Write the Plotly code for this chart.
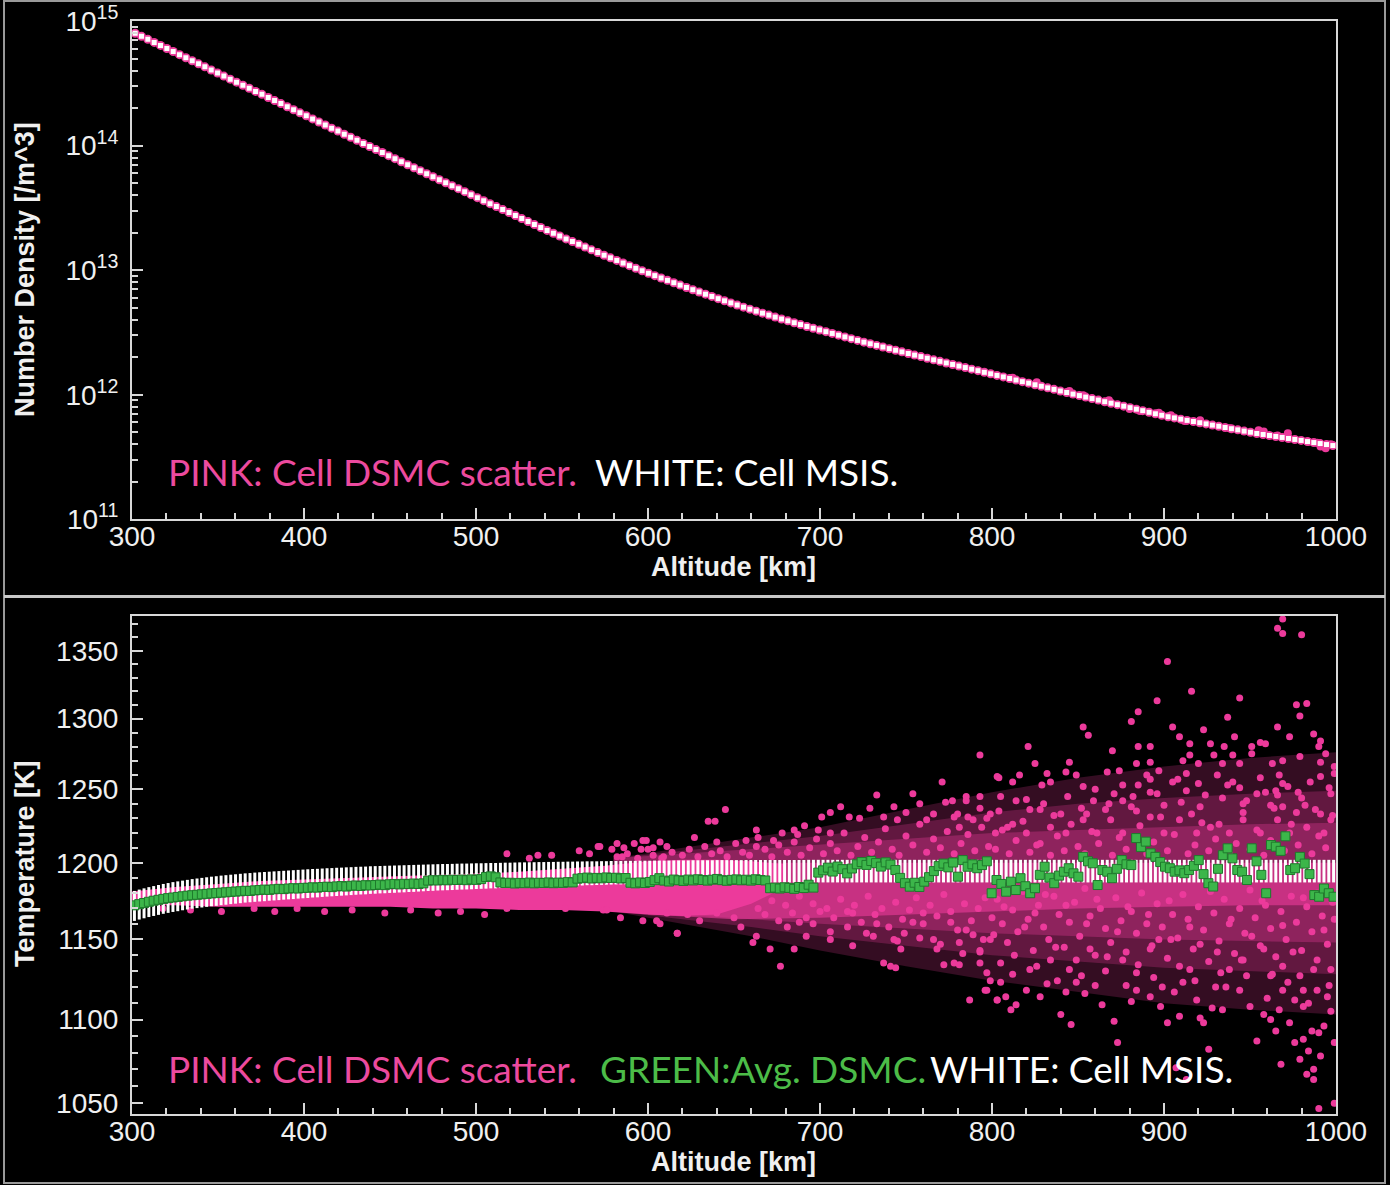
import numpy as np
import plotly.graph_objects as go

W, H = 1390, 1185

# ---------------- TOP PANEL DATA: number density ----------------
top_cell_alt = np.linspace(301.84, 998.16, 190)   # cell centres [km]
msis_log10_density = [
    14.902, 14.877, 14.853, 14.828, 14.804, 14.779, 14.755, 14.730, 14.705, 14.681,
    14.656, 14.632, 14.607, 14.583, 14.558, 14.533, 14.509, 14.484, 14.460, 14.435,
    14.411, 14.386, 14.361, 14.337, 14.312, 14.288, 14.263, 14.239, 14.214, 14.189,
    14.165, 14.140, 14.116, 14.091, 14.067, 14.042, 14.017, 13.993, 13.968, 13.944,
    13.919, 13.895, 13.870, 13.846, 13.822, 13.798, 13.774, 13.750, 13.726, 13.702,
    13.678, 13.654, 13.630, 13.606, 13.582, 13.558, 13.534, 13.510, 13.486, 13.462,
    13.438, 13.414, 13.390, 13.366, 13.342, 13.319, 13.296, 13.274, 13.251, 13.229,
    13.207, 13.185, 13.163, 13.141, 13.120, 13.099, 13.078, 13.057, 13.036, 13.015,
    12.995, 12.975, 12.956, 12.937, 12.918, 12.899, 12.880, 12.861, 12.843, 12.825,
    12.807, 12.789, 12.771, 12.754, 12.737, 12.720, 12.703, 12.687, 12.671, 12.655,
    12.639, 12.623, 12.608, 12.593, 12.578, 12.563, 12.548, 12.534, 12.520, 12.506,
    12.492, 12.478, 12.464, 12.450, 12.436, 12.422, 12.409, 12.396, 12.383, 12.370,
    12.357, 12.344, 12.331, 12.318, 12.306, 12.293, 12.280, 12.268, 12.255, 12.243,
    12.230, 12.218, 12.205, 12.193, 12.180, 12.168, 12.155, 12.143, 12.130, 12.118,
    12.105, 12.093, 12.080, 12.068, 12.055, 12.043, 12.030, 12.018, 12.005, 11.993,
    11.981, 11.969, 11.957, 11.944, 11.932, 11.920, 11.908, 11.896, 11.884, 11.872,
    11.859, 11.847, 11.835, 11.823, 11.814, 11.804, 11.794, 11.785, 11.775, 11.766,
    11.756, 11.747, 11.737, 11.727, 11.718, 11.708, 11.699, 11.689, 11.681, 11.673,
    11.665, 11.657, 11.649, 11.641, 11.633, 11.624, 11.616, 11.608, 11.600, 11.592,
]
# DSMC cell density (agrees with MSIS except for some noisy cells at high altitude)
dsmc_log10_density = msis_log10_density
dsmc_noisy_cells = [
    (812, 12.137), (826, 12.100), (845, 12.030), (853, 11.995), (868, 11.955),
    (880, 11.885), (886, 11.870), (897, 11.855), (904, 11.835), (912, 11.790),
    (921, 11.795), (938, 11.730), (955, 11.715), (958, 11.705), (966, 11.672),
    (972, 11.690), (984, 11.622), (989, 11.615), (991, 11.585), (994, 11.570),
    (997, 11.603),
]

# ---------------- BOTTOM PANEL DATA: temperature ----------------
bot_cell_alt = np.linspace(301.4, 998.6, 250)   # cell centres [km]
msis_T_hi = [
    1181.4, 1182.3, 1183.1, 1183.9, 1184.6, 1185.3, 1186.0, 1186.6, 1187.2, 1187.7,
    1188.2, 1188.7, 1189.2, 1189.6, 1190.0, 1190.4, 1190.8, 1191.1, 1191.5, 1191.8,
    1192.1, 1192.4, 1192.7, 1193.0, 1193.2, 1193.5, 1193.7, 1193.9, 1194.1, 1194.3,
    1194.5, 1194.7, 1194.9, 1195.1, 1195.3, 1195.5, 1195.7, 1195.9, 1196.0, 1196.2,
    1196.4, 1196.5, 1196.7, 1196.8, 1197.0, 1197.1, 1197.3, 1197.4, 1197.5, 1197.7,
    1197.8, 1197.9, 1198.0, 1198.1, 1198.2, 1198.3, 1198.4, 1198.5, 1198.6, 1198.7,
    1198.8, 1198.9, 1199.0, 1199.1, 1199.2, 1199.2, 1199.3, 1199.4, 1199.5, 1199.5,
    1199.6, 1199.7, 1199.7, 1199.8, 1199.9, 1199.9, 1200.0, 1200.1, 1200.1, 1200.2,
    1200.3, 1200.3, 1200.4, 1200.4, 1200.5, 1200.5, 1200.6, 1200.6, 1200.7, 1200.7,
    1200.8, 1200.8, 1200.9, 1200.9, 1201.0, 1201.0, 1201.0, 1201.1, 1201.1, 1201.2,
    1201.2, 1201.2, 1201.3, 1201.3, 1201.3, 1201.4, 1201.4, 1201.4, 1201.5, 1201.5,
    1201.5, 1201.5, 1201.6, 1201.6, 1201.6, 1201.6, 1201.7, 1201.7, 1201.7, 1201.7,
    1201.7, 1201.8, 1201.8, 1201.8, 1201.8, 1201.8, 1201.8, 1201.9, 1201.9, 1201.9,
    1201.9, 1201.9, 1201.9, 1201.9, 1201.9, 1201.9, 1201.9, 1201.9, 1201.9, 1201.9,
    1202.0, 1202.0, 1202.0, 1202.0, 1202.0, 1202.0, 1202.0, 1202.0, 1202.0, 1202.0,
    1202.0, 1202.0, 1202.0, 1202.0, 1202.0, 1202.0, 1202.0, 1202.0, 1202.0, 1202.0,
    1202.0, 1202.0, 1202.0, 1202.0, 1202.0, 1202.0, 1202.0, 1202.0, 1202.0, 1202.0,
    1202.0, 1202.0, 1202.0, 1202.0, 1202.0, 1202.0, 1202.0, 1202.0, 1202.0, 1202.0,
    1202.0, 1202.0, 1202.0, 1202.0, 1202.0, 1202.0, 1202.0, 1202.0, 1202.0, 1202.0,
    1202.0, 1202.0, 1202.0, 1202.0, 1202.0, 1202.0, 1202.0, 1202.0, 1202.0, 1202.0,
    1202.0, 1202.0, 1202.0, 1202.0, 1202.0, 1202.0, 1202.0, 1202.0, 1202.0, 1202.0,
    1202.0, 1202.0, 1202.0, 1202.0, 1202.0, 1202.0, 1202.0, 1202.0, 1202.0, 1202.0,
    1202.0, 1202.0, 1202.0, 1202.0, 1202.0, 1202.0, 1202.0, 1202.0, 1202.0, 1202.0,
    1202.0, 1202.0, 1202.0, 1202.0, 1202.0, 1202.0, 1202.0, 1202.0, 1202.0, 1202.0,
    1202.0, 1202.0, 1202.0, 1202.0, 1202.0, 1202.0, 1202.0, 1202.0, 1202.0, 1202.0,
]
msis_T_lo = [
    1161.9, 1162.8, 1163.6, 1164.4, 1165.1, 1165.8, 1166.5, 1167.1, 1167.7, 1168.2,
    1168.8, 1169.3, 1169.8, 1170.2, 1170.6, 1171.0, 1171.4, 1171.7, 1172.1, 1172.4,
    1172.8, 1173.1, 1173.4, 1173.8, 1174.0, 1174.3, 1174.5, 1174.7, 1175.0, 1175.2,
    1175.4, 1175.7, 1175.9, 1176.1, 1176.4, 1176.6, 1176.8, 1177.1, 1177.2, 1177.5,
    1177.7, 1177.9, 1178.1, 1178.3, 1178.5, 1178.7, 1178.9, 1179.1, 1179.2, 1179.5,
    1179.6, 1179.8, 1179.9, 1180.1, 1180.2, 1180.4, 1180.5, 1180.7, 1180.8, 1181.0,
    1181.2, 1181.4, 1181.5, 1181.7, 1181.8, 1181.9, 1182.0, 1182.2, 1182.3, 1182.4,
    1182.5, 1182.7, 1182.8, 1182.9, 1183.1, 1183.1, 1183.3, 1183.4, 1183.5, 1183.6,
    1183.8, 1183.8, 1184.0, 1184.0, 1184.2, 1184.2, 1184.4, 1184.4, 1184.6, 1184.6,
    1184.8, 1184.8, 1185.0, 1185.0, 1185.2, 1185.2, 1185.3, 1185.4, 1185.5, 1185.6,
    1185.7, 1185.7, 1185.8, 1185.8, 1185.8, 1185.9, 1185.9, 1185.9, 1186.0, 1186.0,
    1186.0, 1186.0, 1186.2, 1186.2, 1186.2, 1186.2, 1186.3, 1186.3, 1186.3, 1186.3,
    1186.4, 1186.5, 1186.5, 1186.6, 1186.6, 1186.6, 1186.7, 1186.8, 1186.8, 1186.8,
    1186.9, 1186.9, 1186.9, 1186.9, 1186.9, 1186.9, 1186.9, 1186.9, 1186.9, 1186.9,
    1187.0, 1187.0, 1187.0, 1187.0, 1187.0, 1187.0, 1187.0, 1187.0, 1187.0, 1187.0,
    1187.0, 1187.0, 1187.0, 1187.0, 1187.0, 1187.0, 1187.0, 1187.0, 1187.0, 1187.0,
    1187.0, 1187.0, 1187.0, 1187.0, 1187.0, 1187.0, 1187.0, 1187.0, 1187.0, 1187.0,
    1187.0, 1187.0, 1187.0, 1187.0, 1187.0, 1187.0, 1187.0, 1187.0, 1187.0, 1187.0,
    1187.0, 1187.0, 1187.0, 1187.0, 1187.0, 1187.0, 1187.0, 1187.0, 1187.0, 1187.0,
    1187.0, 1187.0, 1187.0, 1187.0, 1187.0, 1187.0, 1187.0, 1187.0, 1187.0, 1187.0,
    1187.0, 1187.0, 1187.0, 1187.0, 1187.0, 1187.0, 1187.0, 1187.0, 1187.0, 1187.0,
    1187.0, 1187.0, 1187.0, 1187.0, 1187.0, 1187.0, 1187.0, 1187.0, 1187.0, 1187.0,
    1187.0, 1187.0, 1187.0, 1187.0, 1187.0, 1187.0, 1187.0, 1187.0, 1187.0, 1187.0,
    1187.0, 1187.0, 1187.0, 1187.0, 1187.0, 1187.0, 1187.0, 1187.0, 1187.0, 1187.0,
    1187.0, 1187.0, 1187.0, 1187.0, 1187.0, 1187.0, 1187.0, 1187.0, 1187.0, 1187.0,
]
dsmc_avg_T = [
    1172.0, 1172.8, 1173.5, 1174.3, 1175.0, 1175.6, 1176.2, 1176.7, 1177.1, 1177.5,
    1177.9, 1178.3, 1178.6, 1178.9, 1179.2, 1179.5, 1179.8, 1180.0, 1180.3, 1180.5,
    1180.8, 1181.0, 1181.2, 1181.5, 1181.4, 1181.8, 1182.0, 1182.3, 1182.1, 1182.5,
    1182.8, 1182.6, 1183.0, 1183.2, 1183.0, 1183.4,
    1183.5, 1183.8, 1183.6, 1184.0, 1184.2, 1183.9, 1184.4, 1184.6, 1184.3, 1184.8,
    1185.0, 1184.7, 1185.2, 1185.0,
    1185.3, 1185.6, 1185.2, 1185.8, 1186.0, 1185.7, 1186.1, 1185.9, 1186.3, 1186.0, 1186.4,
    1188.2, 1188.5, 1188.3, 1188.7, 1188.4, 1188.8, 1188.6, 1188.9, 1188.5, 1189.0,
    1188.7, 1189.2, 1190.6, 1191.0,
    1190.4, 1187.0, 1186.6, 1186.8, 1186.3, 1186.7, 1186.5, 1186.9, 1186.4, 1186.8,
    1186.6, 1187.0, 1186.5, 1186.9, 1186.7, 1187.2, 1187.0,
    1189.5, 1189.8, 1190.2, 1189.6, 1190.0, 1189.7, 1190.3, 1189.9, 1190.1, 1189.6, 1189.9,
    1186.8, 1186.4, 1187.0, 1186.6, 1187.3, 1188.5, 1189.8, 1188.2, 1187.6, 1188.9,
    1188.4, 1188.0, 1188.9, 1188.3, 1189.1, 1188.6, 1188.2, 1188.8, 1189.3, 1188.5,
    1188.1, 1188.7, 1189.0, 1188.4, 1188.8, 1188.2, 1189.1, 1188.6, 1188.3,
    1183.2, 1183.6, 1183.0, 1183.8, 1183.4, 1182.8, 1184.0, 1183.3, 1185.5, 1183.6,
    1193.5, 1195.0, 1196.8, 1194.2, 1197.5, 1195.8, 1193.0, 1196.2,
    1199.0, 1200.5, 1198.6, 1201.2, 1199.8, 1197.5, 1200.3, 1198.8, 1195.2, 1190.0,
    1186.5, 1184.2, 1186.8, 1184.0, 1187.5, 1190.5, 1194.5, 1197.8, 1199.5, 1197.0,
    1200.2, 1190.8, 1201.8, 1197.4, 1199.0, 1196.4, 1198.5, 1201.0, 1179.9, 1188.6,
    1186.0, 1180.9, 1187.5, 1182.0, 1189.8, 1184.5, 1179.9, 1183.2, 1192.0, 1197.4,
    1190.2, 1186.5, 1191.5, 1194.1, 1196.4, 1193.0, 1190.8, 1204.0, 1201.0, 1199.7,
    1185.3, 1195.2, 1194.1, 1189.8, 1196.0, 1201.8, 1199.0, 1198.5, 1216.6, 1210.5,
    1214.2, 1206.3, 1204.0, 1200.5, 1197.4, 1196.4, 1194.1, 1195.0, 1193.1, 1195.2,
    1198.0, 1201.8, 1192.5, 1186.5, 1184.3, 1196.0, 1205.1, 1209.7, 1203.0, 1195.2,
    1194.1, 1188.6, 1209.7, 1201.0, 1192.0, 1179.9, 1211.9, 1210.8, 1208.0, 1217.8,
    1195.2, 1196.4, 1204.0, 1199.5, 1192.5, 1178.7, 1177.6, 1183.0, 1179.9, 1177.6,
]

# dense core of the DSMC cell scatter (solid), the dense layer just under the MSIS band,
# and the speckled envelopes (outer, mid, inner)
pink_core_alt = [300, 325, 350, 375, 400, 425, 450, 475, 500, 525, 550, 575, 600, 620, 640, 660, 680]
pink_core_lo = [1172, 1172, 1171, 1171, 1171, 1171, 1171, 1170, 1170, 1169, 1169, 1168, 1166, 1165, 1166, 1173, 1184]
pink_core_hi = [1181, 1184, 1186, 1188, 1189, 1190, 1191, 1192, 1193, 1194, 1196, 1198, 1201, 1202, 1202, 1201, 1199]
pink_under_alt = [600, 650, 700, 750, 800, 850, 900, 950, 1000]
pink_under_lo = [1166, 1163, 1164, 1166, 1168, 1170, 1171, 1172, 1172]
pink_under_hi = [1200, 1200, 1200, 1200, 1200, 1200, 1200, 1200, 1200]
pink_env_alt = [580, 620, 660, 700, 750, 800, 850, 900, 950, 1000]
pink_env_in_lo = [1168, 1166, 1163, 1160, 1157, 1154, 1152, 1150, 1149, 1148]
pink_env_in_hi = [1203, 1206, 1209, 1212, 1216, 1220, 1222, 1224, 1226, 1227]
pink_env_mid_lo = [1168, 1163, 1158, 1152, 1146, 1140, 1136, 1132, 1130, 1128]
pink_env_mid_hi = [1203, 1208, 1213, 1218, 1226, 1234, 1240, 1244, 1247, 1249]
pink_env_out_lo = [1168, 1160, 1152, 1143, 1133, 1124, 1117, 1110, 1106, 1103]
pink_env_out_hi = [1203, 1210, 1217, 1224, 1236, 1248, 1258, 1266, 1272, 1276]

# individual DSMC cell temperatures (alt km, T K)
pink_pts_low = [
    (303, 1178), (306, 1177), (318, 1170), (334, 1169), (352, 1168), (371, 1170), (383, 1168),
    (396, 1170), (412, 1168), (428, 1169), (447, 1167), (462, 1169), (478, 1167), (491, 1168),
    (505, 1166), (518, 1170), (518, 1206), (531, 1203), (536, 1205), (544, 1205), (552, 1170),
    (560, 1208), (566, 1206), (571, 1211), (574, 1169), (579, 1209), (585, 1204), (592, 1213),
    (597, 1215), (600, 1209), (605, 1162), (611, 1167), (617, 1154), (608, 1203),
]
pink_pts_mid_above = [
    (572, 1211), (582, 1213), (586, 1210), (596, 1209), (599, 1215), (603, 1210), (607, 1214),
    (611, 1211), (627, 1217), (635, 1228), (639, 1228), (645, 1236), (640, 1214), (657, 1215),
    (663, 1222), (663, 1211), (673, 1215), (678, 1220), (685, 1222), (687, 1219), (691, 1225),
    (701, 1231), (699, 1222), (706, 1234), (712, 1238), (706, 1220), (717, 1231), (723, 1230),
    (729, 1237), (733, 1246), (737, 1231), (743, 1238), (745, 1229), (750, 1234), (754, 1247),
    (758, 1240), (762, 1229), (766, 1233), (771, 1255), (773, 1241), (777, 1242), (778, 1231),
    (781, 1224), (785, 1242), (786, 1231), (793, 1274), (793, 1245), (793, 1237), (797, 1230),
    (803, 1259), (802, 1220),
    (582, 1204), (588, 1206), (594, 1203), (603, 1205), (609, 1204), (614, 1207), (620, 1205),
    (624, 1209), (629, 1204), (633, 1211), (637, 1206), (642, 1208), (646, 1204), (651, 1213),
    (655, 1207), (659, 1205), (664, 1217), (668, 1209), (672, 1204), (676, 1212), (681, 1207),
    (685, 1214), (689, 1205), (694, 1210), (698, 1216), (702, 1206), (706, 1213), (710, 1208),
    (714, 1220), (718, 1205), (722, 1211), (726, 1217), (730, 1207), (734, 1214), (738, 1223),
    (742, 1209), (746, 1205), (750, 1218), (754, 1212), (758, 1226), (762, 1207), (766, 1216),
    (770, 1210), (774, 1221), (778, 1206), (782, 1213), (786, 1219), (790, 1208), (794, 1224),
    (798, 1211),
]
pink_pts_mid_below = [
    (576, 1169), (584, 1164), (597, 1162), (607, 1160), (617, 1154), (623, 1166), (630, 1162),
    (640, 1167), (650, 1164), (654, 1158), (661, 1148), (663, 1152), (671, 1144), (677, 1133),
    (681, 1158), (685, 1144), (688, 1161), (692, 1152), (696, 1160), (706, 1155), (716, 1158),
    (719, 1167), (727, 1154), (733, 1160), (737, 1135), (741, 1133), (744, 1132), (743, 1150),
    (745, 1149), (749, 1154), (754, 1161), (760, 1167), (766, 1150), (768, 1144), (772, 1134),
    (776, 1161), (778, 1135), (781, 1148), (785, 1156), (789, 1153), (793, 1143), (797, 1129),
    (797, 1118), (793, 1135), (799, 1150), (803, 1112),
    (704, 1170), (708, 1164), (712, 1176), (716, 1168), (720, 1172), (724, 1161), (728, 1178),
    (732, 1166), (736, 1170), (740, 1158), (744, 1174), (748, 1163), (752, 1169), (756, 1177),
    (760, 1160), (764, 1172), (768, 1165), (772, 1179), (776, 1168), (780, 1156), (784, 1173),
    (788, 1162), (792, 1170), (796, 1177), (800, 1164), (706, 1150), (719, 1146), (731, 1152),
    (747, 1144), (758, 1151), (770, 1147), (783, 1141), (795, 1150),
    (664, 1170), (668, 1166), (672, 1175), (676, 1162), (680, 1172), (684, 1167), (688, 1178),
    (692, 1164), (696, 1173), (700, 1168),
]
pink_pts_high_above = [
    (969, 1374), (966, 1367), (969, 1363), (980, 1362), (902, 1342), (916, 1320), (944, 1315),
    (896, 1313), (885, 1305), (881, 1298), (853, 1294), (856, 1288), (977, 1310), (983, 1311),
    (979, 1302), (937, 1301), (923, 1292), (905, 1294), (966, 1294), (973, 1287), (987, 1289),
    (991, 1284), (990, 1280), (994, 1275), (991, 1269), (999, 1266), (821, 1280), (825, 1268),
    (832, 1261), (816, 1260), (804, 1258), (870, 1277), (885, 1280), (892, 1280), (884, 1268),
    (892, 1269), (909, 1287), (915, 1282), (927, 1282), (935, 1280), (941, 1287), (951, 1280),
    (956, 1283), (959, 1282), (915, 1274), (920, 1268), (911, 1270), (929, 1274), (934, 1268),
    (940, 1274), (944, 1268), (951, 1275), (963, 1268), (969, 1270), (979, 1273), (967, 1260),
    (845, 1269), (843, 1262), (849, 1260), (867, 1262), (874, 1263), (834, 1255), (829, 1253),
    (812, 1255), (805, 1245), (785, 1245), (814, 1242), (822, 1236), (828, 1236), (840, 1233),
    (853, 1252), (859, 1242), (855, 1233), (871, 1247), (876, 1242), (881, 1238), (885, 1253),
    (890, 1260), (892, 1257), (897, 1263), (896, 1247), (905, 1255), (913, 1261), (920, 1254),
    (913, 1249), (921, 1238), (931, 1260), (937, 1253), (944, 1251), (946, 1240), (954, 1247),
    (959, 1248), (965, 1249), (969, 1254), (978, 1248), (985, 1255), (991, 1259), (997, 1247),
    (999, 1261), (962, 1239), (969, 1238), (977, 1234), (991, 1233), (997, 1229), (780, 1233),
    (789, 1229), (799, 1233), (809, 1224), (820, 1220), (834, 1224), (843, 1220), (853, 1229),
    (861, 1220), (869, 1229), (876, 1220), (892, 1231), (900, 1220), (909, 1229), (919, 1220),
    (927, 1224), (938, 1220), (946, 1229), (956, 1220), (966, 1229), (973, 1220), (983, 1224),
    (993, 1220),
    (802, 1209), (806, 1222), (810, 1206), (814, 1215), (818, 1228), (822, 1207), (826, 1212),
    (830, 1240), (834, 1205), (838, 1218), (842, 1208), (846, 1226), (850, 1211), (854, 1206),
    (858, 1221), (862, 1213), (866, 1236), (870, 1205), (874, 1217), (878, 1209), (882, 1245),
    (886, 1225), (890, 1206), (894, 1214), (898, 1231), (902, 1208), (906, 1219), (910, 1241),
    (914, 1206), (918, 1212), (922, 1227), (926, 1208), (930, 1216), (934, 1244), (938, 1206),
    (942, 1213), (946, 1234), (950, 1209), (954, 1222), (958, 1205), (962, 1215), (966, 1246),
    (970, 1208), (974, 1226), (978, 1212), (982, 1239), (986, 1206), (990, 1218), (994, 1210),
    (998, 1232),
    (804, 1235), (812, 1226), (820, 1243), (828, 1213), (836, 1232), (844, 1245), (852, 1237),
    (860, 1250), (868, 1240), (876, 1253), (884, 1235), (892, 1248), (900, 1239), (908, 1257),
    (916, 1233), (924, 1246), (932, 1226), (940, 1255), (948, 1242), (956, 1258), (964, 1237),
    (972, 1252), (980, 1244), (988, 1236), (996, 1251),
]
pink_pts_high_below = [
    (999, 1050), (990, 1047), (968, 1073), (983, 1067), (987, 1064), (984, 1081), (991, 1078),
    (986, 1093), (990, 1092), (976, 1086), (954, 1087), (965, 1093), (958, 1103), (967, 1106),
    (973, 1098), (976, 1112), (981, 1108), (989, 1118), (995, 1114), (997, 1105), (913, 1064),
    (907, 1071), (926, 1082), (923, 1098), (921, 1101), (928, 1107), (934, 1106), (930, 1120),
    (909, 1102), (902, 1098), (898, 1108), (881, 1111), (892, 1114), (899, 1120), (873, 1086),
    (871, 1099), (864, 1109), (860, 1121), (846, 1097), (840, 1103), (854, 1116), (843, 1117),
    (832, 1122), (828, 1114), (811, 1106), (814, 1109), (808, 1114), (803, 1112), (799, 1124),
    (796, 1118), (805, 1135), (793, 1142), (781, 1134), (822, 1131), (834, 1137), (845, 1131),
    (857, 1144), (876, 1137), (884, 1129), (892, 1144), (904, 1150), (915, 1131), (931, 1142),
    (938, 1131), (946, 1137), (958, 1144), (962, 1127), (969, 1133), (979, 1127), (989, 1137),
    (997, 1131), (969, 1118), (981, 1118), (950, 1108), (944, 1118), (919, 1112), (911, 1123),
    (884, 1118), (849, 1123), (820, 1118), (787, 1112), (805, 1123), (962, 1100), (993, 1096),
    (999, 1086), (981, 1088), (979, 1076), (987, 1070),
    (803, 1176), (806, 1160), (809, 1148), (812, 1169), (815, 1155), (818, 1181), (821, 1163),
    (824, 1143), (827, 1172), (830, 1158), (833, 1150), (836, 1178), (839, 1166), (842, 1145),
    (845, 1161), (848, 1174), (851, 1152), (854, 1183), (857, 1165), (860, 1140), (863, 1170),
    (866, 1157), (869, 1148), (872, 1177), (875, 1162), (878, 1142), (881, 1168), (884, 1154),
    (887, 1180), (890, 1160), (893, 1146), (896, 1173), (899, 1158), (902, 1138), (905, 1166),
    (908, 1151), (911, 1179), (914, 1163), (917, 1144), (920, 1171), (923, 1156), (926, 1136),
    (929, 1167), (932, 1149), (935, 1176), (938, 1160), (941, 1141), (944, 1170), (947, 1154),
    (950, 1182), (953, 1164), (956, 1146), (959, 1172), (962, 1157), (965, 1139), (968, 1168),
    (971, 1150), (974, 1178), (977, 1161), (980, 1143), (983, 1171), (986, 1155), (989, 1180),
    (992, 1165), (995, 1147), (998, 1174),
    (801, 1153), (807, 1171), (813, 1140), (819, 1158), (825, 1167), (831, 1179), (837, 1145),
    (843, 1172), (849, 1137), (855, 1160), (861, 1176), (867, 1139), (873, 1155), (879, 1171),
    (885, 1134), (891, 1166), (897, 1150), (903, 1175), (909, 1133), (915, 1158), (921, 1147),
    (927, 1181), (933, 1129), (939, 1163), (945, 1137), (951, 1152), (957, 1175), (963, 1128),
    (969, 1159), (975, 1142), (981, 1177), (987, 1131), (993, 1156), (999, 1163),
    (812, 1128), (826, 1133), (838, 1124), (852, 1127), (866, 1130), (878, 1121), (894, 1126),
    (906, 1117), (918, 1124), (936, 1120), (948, 1127), (960, 1113), (972, 1123), (984, 1110),
    (996, 1121),
]

# axis ticks
alt_ticks = [300, 400, 500, 600, 700, 800, 900, 1000]
density_ticks = [1e11, 1e12, 1e13, 1e14, 1e15]
density_ticktext = ["10<sup>11</sup>", "10<sup>12</sup>", "10<sup>13</sup>", "10<sup>14</sup>", "10<sup>15</sup>"]
temp_ticks = [1050, 1100, 1150, 1200, 1250, 1300, 1350]

for name, arr in [("hi", msis_T_hi), ("lo", msis_T_lo), ("green", dsmc_avg_T)]:
    assert len(arr) == 250, (name, len(arr))
assert len(msis_log10_density) == 190

# ---------------- styling ----------------
PINK = "#ec3a9b"
WHITE = "#ffffff"
GREEN = "#3cb64a"
GREEN_EDGE = "#1e7a2c"
AXC = "#d8d8d8"
TXT = "#f0f0f0"
TICKF = "Liberation Sans, Arial, sans-serif"
LEGF = "Lato, Open Sans, sans-serif"


def px(xp):
    return xp / W


def py(yp):
    return 1 - yp / H


def band(alt, lo, hi):
    return list(alt) + list(alt)[::-1], list(hi) + list(lo)[::-1]


fig = go.Figure()

# top panel
top_density = [10 ** v for v in msis_log10_density]
dsmc_top_density = [10 ** v for v in dsmc_log10_density]
fig.add_trace(go.Scatter(x=top_cell_alt, y=dsmc_top_density, mode="markers",
                         marker=dict(symbol="circle", size=9, color=PINK, line=dict(width=0)),
                         xaxis="x", yaxis="y", hoverinfo="skip"))
fig.add_trace(go.Scatter(x=[p[0] for p in dsmc_noisy_cells], y=[10 ** p[1] for p in dsmc_noisy_cells],
                         mode="markers", marker=dict(symbol="circle", size=8, color=PINK, line=dict(width=0)),
                         xaxis="x", yaxis="y", hoverinfo="skip"))
fig.add_trace(go.Scatter(x=top_cell_alt, y=top_density, mode="markers",
                         marker=dict(symbol="square", size=5, color=WHITE, line=dict(width=0)),
                         xaxis="x", yaxis="y", hoverinfo="skip"))

# bottom panel
for alt, lo, hi, col in [
    (pink_env_alt, pink_env_out_lo, pink_env_out_hi, "rgba(236,58,155,0.22)"),
    (pink_env_alt, pink_env_mid_lo, pink_env_mid_hi, "rgba(236,58,155,0.25)"),
    (pink_env_alt, pink_env_in_lo, pink_env_in_hi, "rgba(236,58,155,0.32)"),
    (pink_under_alt, pink_under_lo, pink_under_hi, "rgba(236,58,155,0.60)"),
    (pink_core_alt, pink_core_lo, pink_core_hi, PINK),
]:
    ex, ey = band(alt, lo, hi)
    fig.add_trace(go.Scatter(x=ex, y=ey, mode="lines", fill="toself", fillcolor=col,
                             line=dict(width=0), xaxis="x2", yaxis="y2", hoverinfo="skip"))
all_pink = pink_pts_low + pink_pts_mid_above + pink_pts_mid_below + pink_pts_high_above + pink_pts_high_below
fig.add_trace(go.Scatter(x=[p[0] for p in all_pink], y=[p[1] for p in all_pink], mode="markers",
                         marker=dict(symbol="circle", size=7, color=PINK, line=dict(width=0)),
                         xaxis="x2", yaxis="y2", hoverinfo="skip"))
bx, by = [], []
for a, lo, hi in zip(bot_cell_alt, msis_T_lo, msis_T_hi):
    bx += [a, a, None]
    by += [lo, hi, None]
fig.add_trace(go.Scatter(x=bx, y=by, mode="lines", line=dict(color=WHITE, width=3),
                         xaxis="x2", yaxis="y2", hoverinfo="skip"))
fig.add_trace(go.Scatter(x=bot_cell_alt, y=dsmc_avg_T, mode="markers",
                         marker=dict(symbol="square", size=9, color=GREEN, line=dict(width=1, color=GREEN_EDGE)),
                         xaxis="x2", yaxis="y2", hoverinfo="skip"))

xdom = [px(132), px(1336)]
common = dict(showline=True, linecolor=AXC, linewidth=2, mirror=True, ticks="inside",
              ticklen=11, tickwidth=2, tickcolor=AXC, showgrid=False, zeroline=False,
              automargin=False, tickfont=dict(family=TICKF, size=28, color=TXT))
xcommon = dict(common, range=[300, 1000], tickmode="array", tickvals=alt_ticks,
               ticktext=[str(v) for v in alt_ticks], ticklabelstandoff=-9,
               minor=dict(tickmode="linear", tick0=300, dtick=20, ticks="inside", ticklen=6,
                          tickwidth=1.5, tickcolor=AXC))

density_minor = [m * 10 ** e for e in range(11, 15) for m in range(2, 10)]
temp_minor = [t for t in range(1050, 1380, 10) if t % 50 != 0]

fig.update_layout(
    template="none",
    width=W, height=H, margin=dict(l=0, r=0, t=0, b=0, autoexpand=False),
    paper_bgcolor="black", plot_bgcolor="black", showlegend=False,
    xaxis=dict(xcommon, domain=xdom, anchor="y"),
    yaxis=dict(common, domain=[py(519.3), py(21)], anchor="x", type="log", range=[11, 15],
               tickmode="array", tickvals=density_ticks, ticktext=density_ticktext,
               ticklabelstandoff=6,
               minor=dict(tickmode="array", tickvals=density_minor, ticks="inside", ticklen=6,
                          tickwidth=1.5, tickcolor=AXC)),
    xaxis2=dict(xcommon, domain=xdom, anchor="y2"),
    yaxis2=dict(common, domain=[py(1114.3), py(615.7)], anchor="x2", type="log",
                range=[np.log10(1043.6), np.log10(1376.5)],
                tickmode="array", tickvals=temp_ticks, ticktext=[str(v) for v in temp_ticks],
                ticklabelstandoff=6,
                minor=dict(tickmode="array", tickvals=temp_minor, ticks="inside", ticklen=6,
                           tickwidth=1.5, tickcolor=AXC)),
)

ann = []
title_font = dict(family=TICKF, size=27, color=TXT)
ann.append(dict(x=px(733), y=py(567), text="<b>Altitude [km]</b>", showarrow=False,
                xref="paper", yref="paper", xanchor="center", yanchor="middle", font=title_font))
ann.append(dict(x=px(733), y=py(1162), text="<b>Altitude [km]</b>", showarrow=False,
                xref="paper", yref="paper", xanchor="center", yanchor="middle", font=title_font))
ann.append(dict(x=px(25), y=py(270), text="<b>Number Density [/m^3]</b>", showarrow=False, textangle=-90,
                xref="paper", yref="paper", xanchor="center", yanchor="middle", font=title_font))
ann.append(dict(x=px(25), y=py(864), text="<b>Temperature [K]</b>", showarrow=False, textangle=-90,
                xref="paper", yref="paper", xanchor="center", yanchor="middle", font=title_font))


def leg(x, y, text, color):
    return dict(x=px(x), y=py(y), text=text, showarrow=False, xref="paper", yref="paper",
                xanchor="left", yanchor="middle", font=dict(family=LEGF, size=37, color=color))


ann.append(leg(166, 471, "PINK: Cell DSMC scatter.", "#ec4a9e"))
ann.append(leg(593, 471, "WHITE: Cell MSIS.", WHITE))
ann.append(leg(166, 1068, "PINK: Cell DSMC scatter.", "#ec4a9e"))
ann.append(leg(598, 1068, "GREEN:Avg. DSMC.", "#4cbc48"))
ann.append(leg(928, 1068, "WHITE: Cell MSIS.", WHITE))
fig.update_layout(annotations=ann)

fig.update_layout(shapes=[
    dict(type="rect", xref="paper", yref="paper", x0=px(4), x1=px(1385), y0=py(1183), y1=py(1),
         line=dict(color="#9a9a9a", width=2)),
    dict(type="line", xref="paper", yref="paper", x0=px(4), x1=px(1385), y0=py(596.5), y1=py(596.5),
         line=dict(color="#c8c8c8", width=3)),
])

fig.write_html("out.html")
